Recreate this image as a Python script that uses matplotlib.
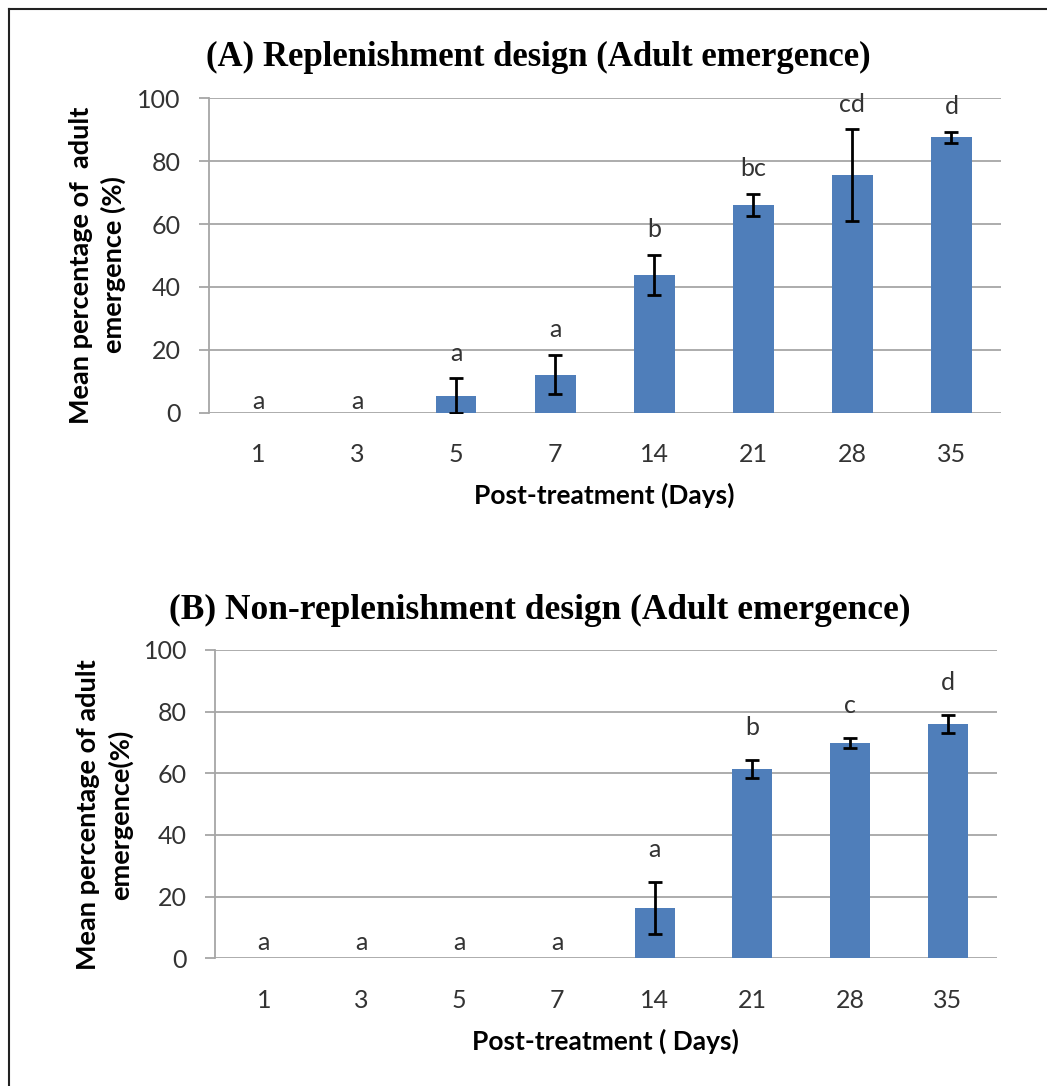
import matplotlib
matplotlib.use("Agg")
import matplotlib.pyplot as plt
from matplotlib.lines import Line2D
import numpy as np

days = ["1", "3", "5", "7", "14", "21", "28", "35"]

repl_mean = [0, 0, 5.4, 12.1, 43.8, 66.1, 75.5, 87.6]
repl_err = [0, 0, 5.5, 6.3, 6.4, 3.6, 14.6, 1.7]
repl_letters = ["a", "a", "a", "a", "b", "bc", "cd", "d"]

nonrepl_mean = [0, 0, 0, 0, 16.4, 61.3, 69.9, 75.9]
nonrepl_err = [0, 0, 0, 0, 8.5, 2.9, 1.7, 2.9]
nonrepl_letters = ["a", "a", "a", "a", "a", "b", "c", "d"]

W, H = 1047, 1086
fig = plt.figure(figsize=(W / 100, H / 100), dpi=100)
fig.patch.set_facecolor("white")

BAR = "#4F7EBA"
GRID = "#A6A6A6"
SANS = "Lato"


def panel(rect, means, errs, letters, title, title_xy, title_size, ylabel,
          xlabel, zero_y, offset, ylab_x, ylab_y):
    ax = fig.add_axes(rect)
    x = np.arange(len(days))
    ax.bar(x, means, width=0.41, color=BAR, zorder=3)
    m = np.array(means)
    e = np.array(errs)
    nz = m > 0
    ax.errorbar(x[nz], m[nz], yerr=e[nz], fmt="none", ecolor="black",
                elinewidth=2, capsize=5, capthick=2, zorder=4)
    for xi, mi, ei, lt in zip(x, m, e, letters):
        yy = mi + ei + offset if mi > 0 else zero_y
        ax.text(xi, yy, lt, ha="center", va="center", fontsize=18,
                family=SANS, color="#333333", zorder=5)
    ax.set_xlim(-0.5, len(days) - 0.5)
    ax.set_ylim(0, 100)
    ax.set_yticks([0, 20, 40, 60, 80, 100])
    ax.yaxis.grid(True, color=GRID, lw=1.3, zorder=0)
    ax.set_axisbelow(True)
    for s in ["top", "right", "bottom"]:
        ax.spines[s].set_visible(False)
    ax.spines["left"].set_color(GRID)
    ax.spines["left"].set_linewidth(1.3)
    ax.tick_params(axis="y", length=7, color=GRID, width=1.3, pad=13,
                   labelsize=18, labelcolor="#333333")
    ax.tick_params(axis="x", length=0, pad=22, labelsize=18,
                   labelcolor="#333333")
    ax.set_xticks(x)
    ax.set_xticklabels(days)
    for lab in ax.get_xticklabels() + ax.get_yticklabels():
        lab.set_family(SANS)
    ax.set_xlabel(xlabel, fontsize=19, fontweight="bold", family=SANS,
                  labelpad=12, color="black")
    ax.set_ylabel(ylabel, fontsize=19.5, fontweight="bold", family=SANS,
                  color="black", multialignment="center", linespacing=1.35)
    ax.yaxis.set_label_coords(ylab_x, ylab_y)
    fig.text(title_xy[0], title_xy[1], title, ha="center", va="center",
             fontsize=title_size, fontweight="bold", family="Liberation Serif")
    return ax


panel([208.5 / W, 1 - 412.7 / H, 792.5 / W, 314.4 / H],
      repl_mean, repl_err, repl_letters,
      "(A) Replenishment design (Adult emergence)", (538 / W, 1 - 57 / H), 25,
      "Mean percentage of  adult\nemergence (%)", "Post-treatment (Days)",
      3.5, 8, -0.104, 0.47)

panel([215 / W, 1 - 958.3 / H, 781.7 / W, 308.3 / H],
      nonrepl_mean, nonrepl_err, nonrepl_letters,
      "(B) Non-replenishment design (Adult emergence)", (540 / W, 1 - 610 / H), 25.5,
      "Mean percentage of adult\nemergence(%)", "Post-treatment ( Days)",
      5, 10.5, -0.105, 0.465)

# outer frame (left and top edges visible)
fig.add_artist(Line2D([8.5 / W, 8.5 / W], [0, 1 - 9 / H], color="#222222",
                      lw=1.5, transform=fig.transFigure))
fig.add_artist(Line2D([8.5 / W, 1], [1 - 9 / H, 1 - 9 / H], color="#222222",
                      lw=1.5, transform=fig.transFigure))

fig.savefig("out.png", dpi=100, facecolor="white")
